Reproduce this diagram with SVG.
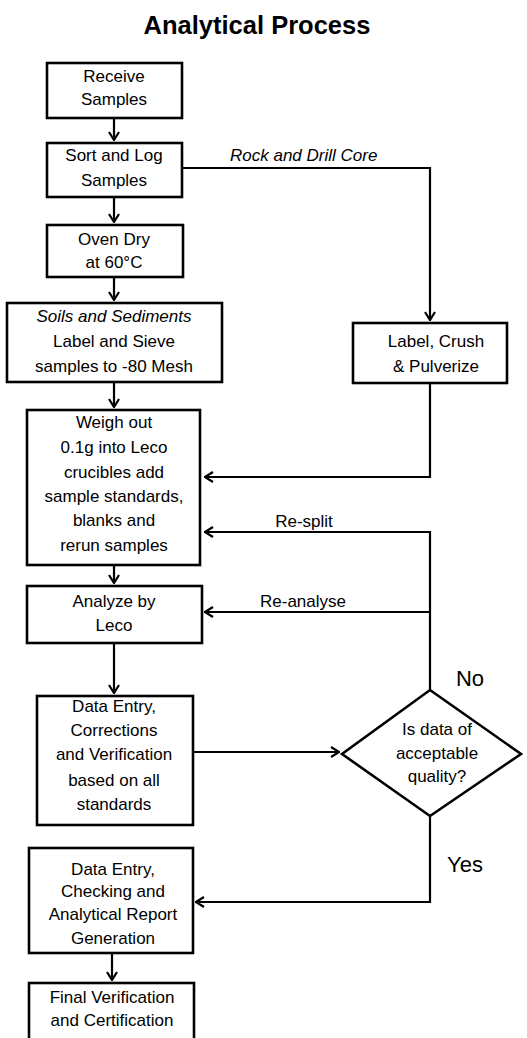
<svg xmlns="http://www.w3.org/2000/svg" width="527" height="1038" viewBox="0 0 527 1038">
<style>
.box{fill:#fff;stroke:#000;stroke-width:2.6}
.t{font-family:"Liberation Sans",Arial,sans-serif;font-size:17px;fill:#000;text-anchor:middle}
.i{font-style:italic}
.c{fill:none;stroke:#000;stroke-width:2.2}
.lbl{font-family:"Liberation Sans",Arial,sans-serif;font-size:17px;fill:#000}
.big{font-family:"Liberation Sans",Arial,sans-serif;font-size:22px;fill:#000}
</style>
<defs>
<marker id="arr" viewBox="0 0 10 12" refX="9" refY="6" markerWidth="10" markerHeight="12" markerUnits="userSpaceOnUse" orient="auto">
<path d="M1,1 L9,6 L1,11" fill="none" stroke="#000" stroke-width="2.2"/>
</marker>
</defs>
<rect width="527" height="1038" fill="#fff"/>
<text x="257" y="34" font-family="Liberation Sans,Arial,sans-serif" font-size="25.5" font-weight="bold" text-anchor="middle">Analytical Process</text>

<g id="connectors">
<path class="c" d="M114,118 V140" marker-end="url(#arr)"/>
<path class="c" d="M114,197 V222" marker-end="url(#arr)"/>
<path class="c" d="M114,277 V300" marker-end="url(#arr)"/>
<path class="c" d="M114,382 V407" marker-end="url(#arr)"/>
<path class="c" d="M182,168 H430 V320" marker-end="url(#arr)"/>
<path class="c" d="M430,383 V477 H205" marker-end="url(#arr)"/>
<path class="c" d="M430,690 V532 H205" marker-end="url(#arr)"/>
<path class="c" d="M430,612 H205" marker-end="url(#arr)"/>
<path class="c" d="M114,565 V583" marker-end="url(#arr)"/>
<path class="c" d="M114,643 V693" marker-end="url(#arr)"/>
<path class="c" d="M193,752 H339" marker-end="url(#arr)"/>
<path class="c" d="M430,816 V902 H196" marker-end="url(#arr)"/>
<path class="c" d="M112,953 V980" marker-end="url(#arr)"/>
<text class="lbl i" x="230" y="161">Rock and Drill Core</text>
<text class="lbl" x="304" y="527" text-anchor="middle">Re-split</text>
<text class="lbl" x="260" y="607">Re-analyse</text>
<text class="big" x="470" y="686" text-anchor="middle">No</text>
<text class="big" x="465" y="872" text-anchor="middle">Yes</text>
</g>

<g id="receive">
<rect class="box" x="47" y="63" width="135" height="55"/>
<text class="t" x="114" y="82">Receive</text>
<text class="t" x="114" y="105">Samples</text>
</g>
<g id="sort">
<rect class="box" x="47" y="143" width="135" height="54"/>
<text class="t" x="114" y="161">Sort and Log</text>
<text class="t" x="114" y="186">Samples</text>
</g>
<g id="oven">
<rect class="box" x="47" y="225" width="136" height="52"/>
<text class="t" x="114" y="245">Oven Dry</text>
<text class="t" x="114" y="268">at 60°C</text>
</g>
<g id="sieve">
<rect class="box" x="7" y="303" width="215" height="79"/>
<text class="t i" x="114" y="322">Soils and Sediments</text>
<text class="t" x="114" y="347">Label and Sieve</text>
<text class="t" x="114" y="372">samples to -80 Mesh</text>
</g>
<g id="crush">
<rect class="box" x="353" y="323" width="154" height="60"/>
<text class="t" x="436" y="347">Label, Crush</text>
<text class="t" x="436" y="372">&amp; Pulverize</text>
</g>
<g id="weigh">
<rect class="box" x="27" y="410" width="173" height="155"/>
<text class="t" x="114" y="428">Weigh out</text>
<text class="t" x="114" y="453">0.1g into Leco</text>
<text class="t" x="114" y="478">crucibles add</text>
<text class="t" x="114" y="502">sample standards,</text>
<text class="t" x="114" y="526">blanks and</text>
<text class="t" x="114" y="551">rerun samples</text>
</g>
<g id="analyze">
<rect class="box" x="27" y="586" width="175" height="57"/>
<text class="t" x="114" y="607">Analyze by</text>
<text class="t" x="114" y="631">Leco</text>
</g>
<g id="dataentry">
<rect class="box" x="37" y="696" width="156" height="129"/>
<text class="t" x="114" y="712">Data Entry,</text>
<text class="t" x="114" y="736">Corrections</text>
<text class="t" x="114" y="760">and Verification</text>
<text class="t" x="114" y="786">based on all</text>
<text class="t" x="114" y="810">standards</text>
</g>
<g id="decision">
<polygon class="box" points="430,690 521,754 430,816 342,754"/>
<text class="t" x="437" y="735">Is data of</text>
<text class="t" x="437" y="759">acceptable</text>
<text class="t" x="437" y="782">quality?</text>
</g>
<g id="report">
<rect class="box" x="29" y="848" width="164" height="105"/>
<text class="t" x="113" y="875">Data Entry,</text>
<text class="t" x="113" y="897">Checking and</text>
<text class="t" x="113" y="920">Analytical Report</text>
<text class="t" x="113" y="944">Generation</text>
</g>
<g id="final">
<rect class="box" x="29" y="983" width="165" height="60"/>
<text class="t" x="112" y="1003">Final Verification</text>
<text class="t" x="112" y="1026">and Certification</text>
</g>
</svg>
